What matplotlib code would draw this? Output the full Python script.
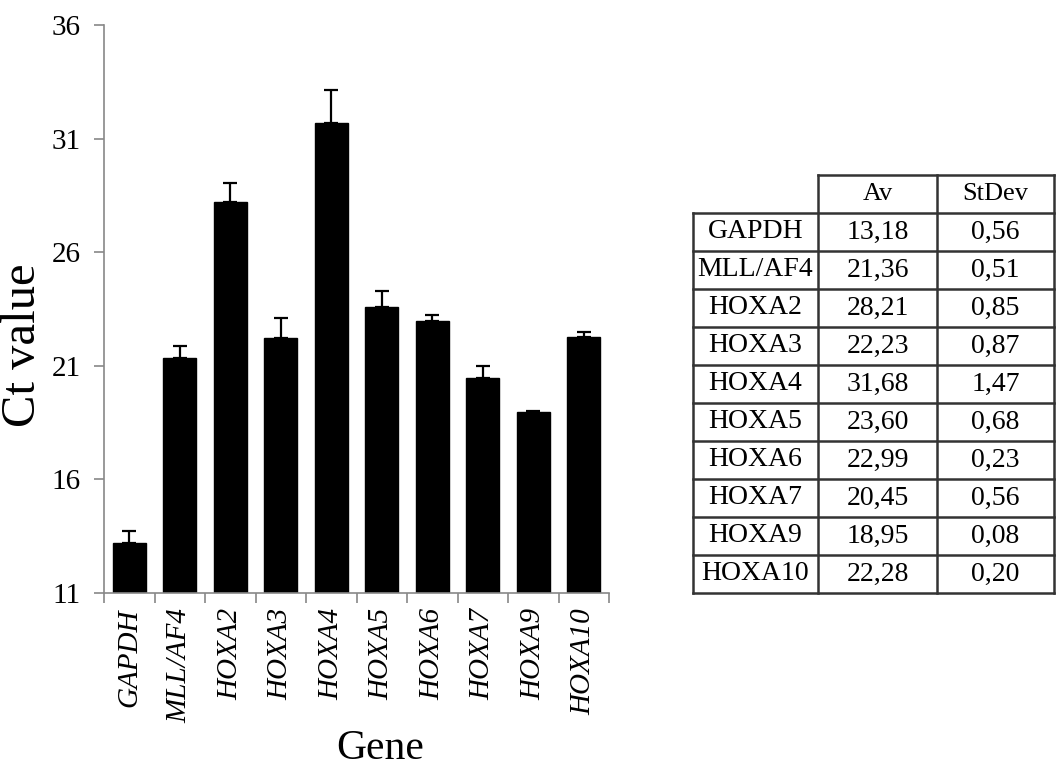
import matplotlib
matplotlib.use('Agg')
import matplotlib.pyplot as plt
import numpy as np

# ---- data ----
genes = ['GAPDH', 'MLL/AF4', 'HOXA2', 'HOXA3', 'HOXA4',
         'HOXA5', 'HOXA6', 'HOXA7', 'HOXA9', 'HOXA10']
av = [13.18, 21.36, 28.21, 22.23, 31.68, 23.60, 22.99, 20.45, 18.95, 22.28]
stdev = [0.56, 0.51, 0.85, 0.87, 1.47, 0.68, 0.23, 0.56, 0.08, 0.20]
yticks = [11, 16, 21, 26, 31, 36]

plt.rcParams['font.family'] = ['Liberation Serif', 'DejaVu Serif']

fig = plt.figure(figsize=(10.56, 7.67), dpi=100, facecolor='white')
ax = fig.add_axes([104 / 1056, 1 - 593 / 767, 505 / 1056, 568 / 767])

# ---- bars with upper error only ----
x = np.arange(len(genes))
ax.bar(x, [a - yticks[0] for a in av], bottom=yticks[0], width=0.65,
       color='black', edgecolor='black')
ax.errorbar(x, av, yerr=[np.zeros(len(stdev)), stdev], fmt='none',
            ecolor='black', elinewidth=1.6, capsize=5, capthick=1.6)

ax.set_ylim(yticks[0], yticks[-1])
ax.set_xlim(-0.5, len(genes) - 0.5)
ax.set_yticks(yticks)
ax.set_yticklabels([str(t) for t in yticks], fontsize=21)

# category labels sit in the middle, tick marks on the boundaries
ax.set_xticks(x)
ax.set_xticklabels(genes, rotation=90, fontsize=21, style='italic')
ax.tick_params(axis='x', length=0, pad=11)
ax.set_xticks(np.arange(-0.5, len(genes)), minor=True)
ax.tick_params(axis='x', which='minor', length=7, color='#888888', width=1.2)
ax.tick_params(axis='y', length=7, color='#888888', width=1.2, pad=10)

for s in ['top', 'right']:
    ax.spines[s].set_visible(False)
for s in ['left', 'bottom']:
    ax.spines[s].set_color('#888888')
    ax.spines[s].set_linewidth(1.2)

ax.set_ylabel('Ct value', fontsize=35)
ax.yaxis.set_label_coords(-0.117, 0.437)
ax.set_xlabel('Gene', fontsize=30)
ax.xaxis.set_label_coords(0.546, -0.24)

# ---- table on the right ----
tx = fig.add_axes([693 / 1056, 1 - 593 / 767, 361 / 1056, 418 / 767])
tx.set_xlim(0, 361)
tx.set_ylim(len(genes) + 1, 0)
tx.axis('off')
cols = [0, 125, 244, 361]
lc = '#333333'
lw = 1.8
# horizontal lines
tx.plot([cols[1], cols[3]], [0, 0], color=lc, lw=lw, clip_on=False)
for r in range(1, len(genes) + 2):
    tx.plot([cols[0], cols[3]], [r, r], color=lc, lw=lw, clip_on=False)
# vertical lines
tx.plot([cols[0], cols[0]], [1, len(genes) + 1], color=lc, lw=lw, clip_on=False)
for c in cols[1:]:
    tx.plot([c, c], [0, len(genes) + 1], color=lc, lw=lw, clip_on=False)

mids = [(cols[i] + cols[i + 1]) / 2 for i in range(3)]
tx.text(mids[1], 0.5, 'Av', ha='center', va='center', fontsize=19)
tx.text(mids[2], 0.5, 'StDev', ha='center', va='center', fontsize=19)
for i, g in enumerate(genes):
    yy = i + 1.5
    tx.text(mids[0], yy, g, ha='center', va='center', fontsize=20)
    tx.text(mids[1], yy, f'{av[i]:.2f}'.replace('.', ','),
            ha='center', va='center', fontsize=20)
    tx.text(mids[2], yy, f'{stdev[i]:.2f}'.replace('.', ','),
            ha='center', va='center', fontsize=20)

fig.savefig('out.png', dpi=100)
